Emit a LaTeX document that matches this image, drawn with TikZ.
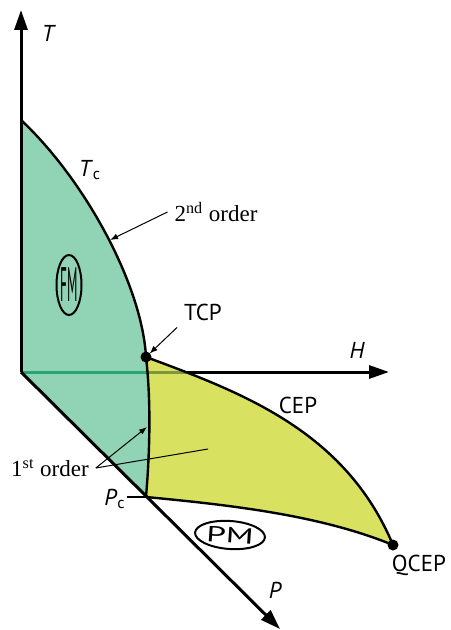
\documentclass[tikz,border=0pt]{standalone}
\usepackage{fontspec}
\setmainfont{Liberation Serif}
\setsansfont{PT Sans}
\definecolor{fmGreen}{RGB}{145,211,181}
\definecolor{pmYellow}{RGB}{216,226,96}
\definecolor{fmLine}{RGB}{40,165,115}
\definecolor{pmLine}{RGB}{128,150,62}
\usetikzlibrary{arrows.meta,shapes.geometric}

\begin{document}
\begin{tikzpicture}[x=0.5pt, y=-0.5pt,
  axis/.style={line width=1.5pt, -{Triangle[length=10pt,width=6.5pt]}},
  border/.style={line width=1.2pt},
  pointer/.style={line width=0.5pt, -{Latex[length=4pt,width=3pt]}},
  lbl/.style={font=\sffamily\fontsize{11.5}{13}\selectfont},
  note/.style={font=\rmfamily\fontsize{11.5}{13}\selectfont},
  phase/.style={draw, ellipse, line width=1pt, inner sep=0pt,
                font=\sffamily\fontsize{11}{13}\selectfont},
  dot/.style={circle, fill, inner sep=0pt, minimum size=5.5pt}
]
  \useasboundingbox (0,0) rectangle (450,630);

  % corners of the two sheets
  \coordinate (o)    at (21,372);
  \coordinate (t0)   at (21,120);
  \coordinate (tcp)  at (146,357);
  \coordinate (pc)   at (146,497);
  \coordinate (qcep) at (393,545);
  \coordinate (ttip) at (21,10);
  \coordinate (htip) at (389,372);
  \coordinate (ptip) at (280,629);

  % H axis runs under the sheets
  \draw[axis] (o) -- (htip);

  % FM sheet
  \begin{scope}
    \clip (o) -- (t0) .. controls (85,180) and (142,285) .. (tcp)
      .. controls (151,400) and (150,450) .. (pc) -- cycle;
    \fill[fmGreen] (0,0) rectangle (450,630);
    \draw[fmLine, line width=1.5pt] (o) -- (htip);
  \end{scope}
  % first-order sheet
  \begin{scope}
    \clip (tcp) .. controls (240,392) and (345,430) .. (qcep)
      .. controls (320,515) and (230,505) .. (pc)
      .. controls (150,450) and (151,400) .. (tcp);
    \fill[pmYellow] (0,0) rectangle (450,630);
    \draw[pmLine, line width=1.5pt] (o) -- (htip);
  \end{scope}

  \draw[axis] (o) -- (ttip);
  \draw[axis] (o) -- (ptip);

  % phase boundaries
  \draw[border] (t0) .. controls (85,180) and (142,285) .. (tcp)
    .. controls (151,400) and (150,450) .. (pc);
  \draw[border] (tcp) .. controls (240,392) and (345,430) .. (qcep)
    .. controls (320,515) and (230,505) .. (pc);
  \coordinate (pctick) at (127,497);
  \draw[border] (pc) -- (pctick);

  \node[dot] (tcpdot)  at (tcp)  {};
  \node[dot] (qcepdot) at (qcep) {};

  % axis labels
  \node[lbl] (tlabel) at (48,33)  {\itshape T};
  \node[lbl] (hlabel) at (357,350) {\itshape H};
  \node[lbl] (plabel) at (275,590) {\itshape P};
  \node[lbl] (tclabel) at (90,170) {\textit{T}\textsubscript{c}};
  \node[lbl] (pclabel) at (115,499) {\textit{P}\textsubscript{c}};

  % points and lines
  \node[lbl] (tcplabel)  at (203,312) {TCP};
  \node[lbl] (ceplabel)  at (298,405) {CEP};
  \node[lbl] (qceplabel) at (419,565) {QCEP};

  \node[note] (second) at (216,212) {2\textsuperscript{nd} order};
  \node[note] (first)  at (50,468)  {1\textsuperscript{st} order};

  \coordinate (tcmark) at (110,240);
  \coordinate (fomark) at (147,427);
  \coordinate (fosheet) at (208,449);
  \draw[pointer] (second.west) -- (tcmark);
  \draw[pointer, shorten >=2.5pt] (tcplabel.south west) -- (tcpdot.center);
  \draw[pointer] (first.east) -- (fomark);
  \draw[line width=0.5pt] (first.east) -- (fosheet);

  % phases
  \node[phase, minimum width=12.5pt, minimum height=30pt] (fm) at (69,285)
    {\scalebox{0.6}[2.2]{FM}};
  \node[phase, minimum width=35pt, minimum height=14pt, rotate=-4] (pm) at (230,535)
    {\scalebox{1.6}[1]{PM}};
\end{tikzpicture}
\end{document}
